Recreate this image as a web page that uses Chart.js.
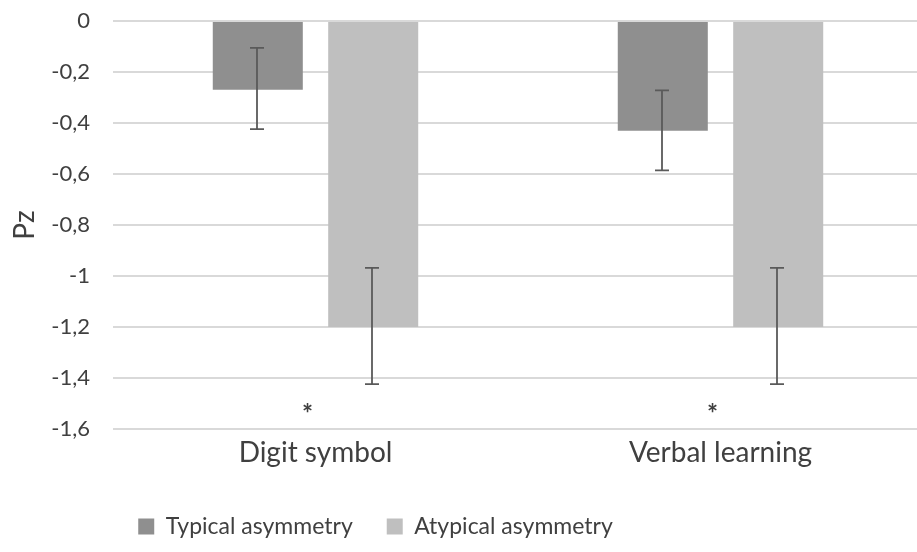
<!DOCTYPE html>
<html>
<head>
<meta charset="utf-8">
<script src="https://cdn.jsdelivr.net/npm/chart.js@4/dist/chart.umd.min.js"></script>
<style>
  html, body { margin: 0; padding: 0; background: #fff; overflow: hidden; }
  #wrap { position: absolute; left: 0; top: 0; width: 925px; height: 552px; }
</style>
</head>
<body>
<div id="wrap"><canvas id="chart"></canvas></div>
<script>
const categories = ['Digit symbol', 'Verbal learning'];
const seriesNames = ['Typical asymmetry', 'Atypical asymmetry'];
const typical = [-0.27, -0.43];
const atypical = [-1.2, -1.2];
const typicalErrTop = [-0.105, -0.272];
const typicalErrBottom = [-0.424, -0.586];
const atypicalErrTop = [-0.968, -0.968];
const atypicalErrBottom = [-1.424, -1.424];
const stars = ['*', '*'];
const starValue = -1.52;

const FONT = 'Lato, "Open Sans", sans-serif';
const TEXT = '#404040';

const errorBars = {
    id: 'errorBars',
    afterDatasetsDraw(chart) {
        const ctx = chart.ctx;
        const y = chart.scales.y;
        const errs = [[typicalErrTop, typicalErrBottom], [atypicalErrTop, atypicalErrBottom]];
        ctx.save();
        ctx.strokeStyle = '#5a5a5a';
        ctx.lineWidth = 1.8;
        chart.data.datasets.forEach((ds, i) => {
            const meta = chart.getDatasetMeta(i);
            meta.data.forEach((bar, j) => {
                const x = Math.round(bar.x) - 1;
                const y1 = y.getPixelForValue(errs[i][0][j]);
                const y2 = y.getPixelForValue(errs[i][1][j]);
                ctx.beginPath();
                ctx.moveTo(x, y1); ctx.lineTo(x, y2);
                ctx.moveTo(x - 7, y1); ctx.lineTo(x + 7, y1);
                ctx.moveTo(x - 7, y2); ctx.lineTo(x + 7, y2);
                ctx.stroke();
            });
        });
        // significance marks
        ctx.fillStyle = TEXT;
        ctx.font = 'bold 26px ' + FONT;
        ctx.textAlign = 'center';
        ctx.textBaseline = 'middle';
        stars.forEach((s, j) => {
            const x = chart.scales.x.getPixelForValue(j) - 8;
            ctx.fillText(s, x, y.getPixelForValue(starValue) + 6);
        });
        ctx.restore();
    }
};

const shiftLegend = {
    id: 'shiftLegend',
    afterUpdate(chart) {
        const lg = chart.legend;
        lg.left -= 90;
        lg.right -= 90;
        lg.adjustHitBoxes();
    }
};

new Chart(document.getElementById('chart'), {
    type: 'bar',
    data: {
        labels: categories,
        datasets: [{
            label: seriesNames[0],
            data: typical,
            backgroundColor: '#8f8f8f'
        }, {
            label: seriesNames[1],
            data: atypical,
            backgroundColor: '#bfbfbf'
        }]
    },
    options: {
        responsive: true,
        maintainAspectRatio: false,
        animation: false,
        categoryPercentage: 0.57,
        barPercentage: 0.78,
        layout: { padding: { left: 8, right: 2, top: 0, bottom: 4 } },
        plugins: {
            legend: {
                position: 'bottom',
                labels: {
                    color: TEXT,
                    font: { family: FONT, size: 23 },
                    boxWidth: 16,
                    boxHeight: 16,
                    padding: 34
                }
            },
            tooltip: { enabled: false }
        },
        scales: {
            x: {
                grid: { display: false, drawTicks: false },
                border: { display: false },
                ticks: { color: TEXT, font: { family: FONT, size: 28 }, padding: 7 },
                afterFit: (scale) => { scale.height = 52; }
            },
            y: {
                min: -1.6,
                max: 0,
                title: {
                    display: true,
                    text: 'Pz',
                    color: TEXT,
                    font: { family: FONT, size: 28 },
                    padding: { top: 0, bottom: 10 }
                },
                grid: { color: '#d9d9d9', lineWidth: 2, drawTicks: false },
                border: { display: false },
                ticks: {
                    stepSize: 0.2,
                    color: TEXT,
                    font: { family: FONT, size: 22 },
                    padding: 23,
                    callback: (v) => Number(v.toFixed(1)).toString().replace('.', ',')
                },
                afterFit: (scale) => { scale.paddingTop = 21; scale.width = 105; }
            }
        }
    },
    plugins: [errorBars, shiftLegend]
});
</script>
</body>
</html>
